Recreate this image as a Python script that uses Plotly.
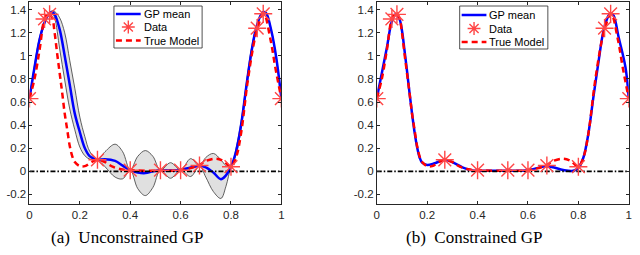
import plotly.graph_objects as go

# ---------------- data ----------------
data_x = [0.0, 0.06, 0.08, 0.27, 0.40, 0.52, 0.60, 0.675, 0.80, 0.904, 0.928, 1.0]
data_y = [0.63, 1.32, 1.36, 0.10, 0.01, 0.01, 0.01, 0.05, 0.04, 1.24, 1.365, 0.63]

true_x = [0.0, 0.02, 0.04, 0.06, 0.075, 0.09, 0.10, 0.11, 0.12, 0.13, 0.14, 0.15, 0.16,
          0.17, 0.18, 0.20, 0.22, 0.25, 0.27, 0.30, 0.33, 0.37, 0.40, 0.50, 0.60, 0.67,
          0.70, 0.74, 0.77, 0.80, 0.82, 0.84, 0.865, 0.89, 0.905, 0.93, 0.957, 0.976, 1.0]
true_y = [0.63, 0.80, 1.05, 1.32, 1.37, 1.33, 1.20, 1.02, 0.85, 0.68, 0.50, 0.36, 0.22,
          0.13, 0.08, 0.045, 0.045, 0.085, 0.10, 0.08, 0.04, 0.015, 0.01, 0.005, 0.01, 0.05,
          0.09, 0.11, 0.09, 0.04, 0.12, 0.33, 0.76, 1.10, 1.24, 1.367, 1.14, 0.90, 0.63]

# unconstrained GP (left)
gp_x = [0.0, 0.02, 0.04, 0.06, 0.08, 0.09, 0.10, 0.12, 0.14, 0.16, 0.18, 0.20, 0.22,
        0.24, 0.27, 0.30, 0.34, 0.37, 0.40, 0.43, 0.46, 0.49, 0.52, 0.56, 0.60, 0.64,
        0.675, 0.70, 0.73, 0.76, 0.78, 0.80, 0.82, 0.84, 0.86, 0.88, 0.90, 0.92, 0.93,
        0.94, 0.96, 0.98, 1.0]
gp_mean = [0.63, 0.90, 1.14, 1.29, 1.37, 1.38, 1.36, 1.23, 1.00, 0.75, 0.50, 0.34, 0.20,
           0.13, 0.10, 0.105, 0.09, 0.05, 0.01, -0.01, -0.015, 0.0, 0.01, 0.008, 0.012, 0.033,
           0.046, 0.035, -0.01, -0.068, -0.035, 0.04, 0.17, 0.40, 0.72, 1.02, 1.24, 1.36, 1.38,
           1.37, 1.22, 0.98, 0.63]
gp_upper = [0.63, 0.92, 1.16, 1.30, 1.375, 1.39, 1.385, 1.33, 1.20, 0.96, 0.72, 0.47, 0.30,
            0.17, 0.10, 0.17, 0.235, 0.17, 0.01, 0.13, 0.18, 0.13, 0.01, 0.075, 0.012, 0.11,
            0.046, 0.12, 0.155, 0.10, 0.05, 0.04, 0.20, 0.43, 0.75, 1.05, 1.25, 1.365, 1.385,
            1.375, 1.225, 0.985, 0.63]
gp_lower = [0.63, 0.88, 1.12, 1.28, 1.365, 1.37, 1.33, 1.06, 0.79, 0.54, 0.36, 0.21, 0.135,
            0.105, 0.10, 0.04, -0.05, -0.065, 0.01, -0.15, -0.21, -0.14, 0.01, -0.06, 0.012, -0.045,
            0.046, -0.05, -0.175, -0.235, -0.13, 0.04, 0.14, 0.37, 0.69, 0.99, 1.23, 1.355, 1.375,
            1.365, 1.215, 0.975, 0.63]

# constrained GP (right)
cgp_x = [0.0, 0.02, 0.04, 0.06, 0.075, 0.09, 0.10, 0.11, 0.12, 0.13, 0.14, 0.15, 0.16,
         0.17, 0.18, 0.20, 0.23, 0.27, 0.30, 0.34, 0.38, 0.40, 0.50, 0.60, 0.64, 0.67,
         0.70, 0.74, 0.78, 0.80, 0.82, 0.84, 0.86, 0.88, 0.90, 0.92, 0.93, 0.94, 0.96,
         0.987, 1.0]
cgp_mean = [0.63, 0.85, 1.07, 1.30, 1.36, 1.32, 1.22, 1.05, 0.87, 0.68, 0.50, 0.34, 0.21,
            0.12, 0.075, 0.055, 0.07, 0.10, 0.08, 0.035, 0.008, 0.005, 0.005, 0.01, 0.03, 0.045,
            0.035, 0.012, 0.005, 0.03, 0.12, 0.33, 0.65, 0.95, 1.22, 1.35, 1.37, 1.35, 1.16,
            0.90, 0.63]

zero_x = [0.0, 1.0]
zero_y = [0.0, 0.0]

x_ticks = [0, 0.2, 0.4, 0.6, 0.8, 1]
x_ticktext = ["0", "0.2", "0.4", "0.6", "0.8", "1"]
y_ticks = [-0.2, 0, 0.2, 0.4, 0.6, 0.8, 1, 1.2, 1.4]
y_ticktext = ["-0.2", "0", "0.2", "0.4", "0.6", "0.8", "1", "1.2", "1.4"]

legend_labels = ["GP mean", "Data", "True Model"]
captions = ["(a)\u00a0 Unconstrained GP", "(b)\u00a0 Constrained GP"]

# ---------------- styles ----------------
BLUE = "rgb(0,0,255)"
RED = "rgb(255,0,0)"
STAR = "rgb(255,70,70)"
AXC = "#262626"
SANS = "Liberation Sans, Arial, sans-serif"
SERIF = "Liberation Serif, Times New Roman, serif"
W, H = 640, 255

def px(x):
    return x / W

def py(y):
    return 1 - y / H

fig = go.Figure()

def add_panel(xa, ya, mean_x, mean_y, band=None):
    if band is not None:
        lo, up = band
        fig.add_trace(go.Scatter(x=mean_x, y=lo, mode="lines", line=dict(color="#3a3a3a", width=0.8, shape="spline"),
                                 xaxis=xa, yaxis=ya, showlegend=False, hoverinfo="skip"))
        fig.add_trace(go.Scatter(x=mean_x, y=up, mode="lines", line=dict(color="#3a3a3a", width=0.8, shape="spline"),
                                 fill="tonexty", fillcolor="rgb(224,224,224)",
                                 xaxis=xa, yaxis=ya, showlegend=False, hoverinfo="skip"))
    fig.add_trace(go.Scatter(x=mean_x, y=mean_y, mode="lines", name=legend_labels[0],
                             line=dict(color=BLUE, width=2.5, shape="spline"),
                             xaxis=xa, yaxis=ya, showlegend=False))
    fig.add_trace(go.Scatter(x=true_x, y=true_y, mode="lines", name=legend_labels[2],
                             line=dict(color=RED, width=2.5, dash="6px,4px", shape="spline"),
                             xaxis=xa, yaxis=ya, showlegend=False))
    fig.add_trace(go.Scatter(x=zero_x, y=zero_y, mode="lines",
                             line=dict(color="black", width=1.6, dash="5px,2px,1.5px,2px"),
                             xaxis=xa, yaxis=ya, showlegend=False, hoverinfo="skip"))
    fig.add_trace(go.Scatter(x=data_x, y=data_y, mode="markers", name=legend_labels[1],
                             marker=dict(symbol="asterisk-open", size=15, color=STAR,
                                         line=dict(color=STAR, width=1.4)),
                             xaxis=xa, yaxis=ya, showlegend=False))

add_panel("x", "y", gp_x, gp_mean, band=(gp_lower, gp_upper))
add_panel("x2", "y2", cgp_x, cgp_mean)

xdom1 = [px(26.7), px(281.0)]
xdom2 = [px(377.3), px(631.7)]
ydom = [py(204.0), py(2.0)]

def xax(dom, anchor):
    return dict(domain=dom, anchor=anchor, range=[0, 1], tickvals=x_ticks, ticktext=x_ticktext,
                ticks="inside", ticklen=3, tickwidth=0.8, tickcolor=AXC, showline=True, linecolor=AXC,
                linewidth=0.8, mirror="allticks", showgrid=False, zeroline=False,
                tickfont=dict(family=SANS, size=11.5, color=AXC))

def yax(anchor):
    return dict(domain=ydom, anchor=anchor, range=[-0.283, 1.467], tickvals=y_ticks, ticktext=y_ticktext,
                ticks="inside", ticklen=3, tickwidth=0.8, tickcolor=AXC, showline=True, linecolor=AXC,
                linewidth=0.8, mirror="allticks", showgrid=False, zeroline=False,
                tickfont=dict(family=SANS, size=11.5, color=AXC))

# ---------------- legend boxes (drawn as decoration) ----------------
shapes = []
annotations = []

def legend_box(x0, y0, x1, y1, rows, line_x0, line_x1, text_x):
    shapes.append(dict(type="rect", xref="paper", yref="paper", x0=px(x0), x1=px(x1), y0=py(y1), y1=py(y0),
                       fillcolor="white", line=dict(color=AXC, width=0.8), layer="above"))
    shapes.append(dict(type="line", xref="paper", yref="paper", x0=px(line_x0), x1=px(line_x1),
                       y0=py(rows[0]), y1=py(rows[0]), line=dict(color=BLUE, width=2.5)))
    cx, cy, r = (line_x0 + line_x1) / 2, rows[1], 6.5
    d = r * 0.7071
    path = (f"M{px(cx - r)},{py(cy)} L{px(cx + r)},{py(cy)} "
            f"M{px(cx)},{py(cy - r)} L{px(cx)},{py(cy + r)} "
            f"M{px(cx - d)},{py(cy - d)} L{px(cx + d)},{py(cy + d)} "
            f"M{px(cx - d)},{py(cy + d)} L{px(cx + d)},{py(cy - d)}")
    shapes.append(dict(type="path", xref="paper", yref="paper", path=path, line=dict(color=STAR, width=1.4)))
    shapes.append(dict(type="line", xref="paper", yref="paper", x0=px(line_x0), x1=px(line_x1),
                       y0=py(rows[2]), y1=py(rows[2]), line=dict(color=RED, width=2.5, dash="6px,4px")))
    for lab, ry in zip(legend_labels, rows):
        annotations.append(dict(text=lab, x=px(text_x), y=py(ry), xref="paper", yref="paper",
                                xanchor="left", yanchor="middle", showarrow=False,
                                font=dict(family=SANS, size=11, color="black")))

legend_box(112, 6, 201, 48, [14.0, 27.0, 40.5], 114, 139, 140)
legend_box(461, 6, 550, 49, [15.0, 28.5, 42.0], 463, 488, 489)

for cap, cx in zip(captions, [126, 475]):
    annotations.append(dict(text=cap, x=px(cx), y=py(237), xref="paper", yref="paper",
                            xanchor="center", yanchor="middle", showarrow=False,
                            font=dict(family=SERIF, size=17, color="black")))

fig.update_layout(
    width=W, height=H, margin=dict(l=0, r=0, t=0, b=0),
    paper_bgcolor="white", plot_bgcolor="white", showlegend=False,
    xaxis=xax(xdom1, "y"), yaxis=yax("x"),
    xaxis2=xax(xdom2, "y2"), yaxis2=yax("x2"),
    shapes=shapes, annotations=annotations,
)

fig.write_html("out.html", config={"displayModeBar": False},
               post_script="document.body.style.margin='0';document.body.style.overflow='hidden';")
